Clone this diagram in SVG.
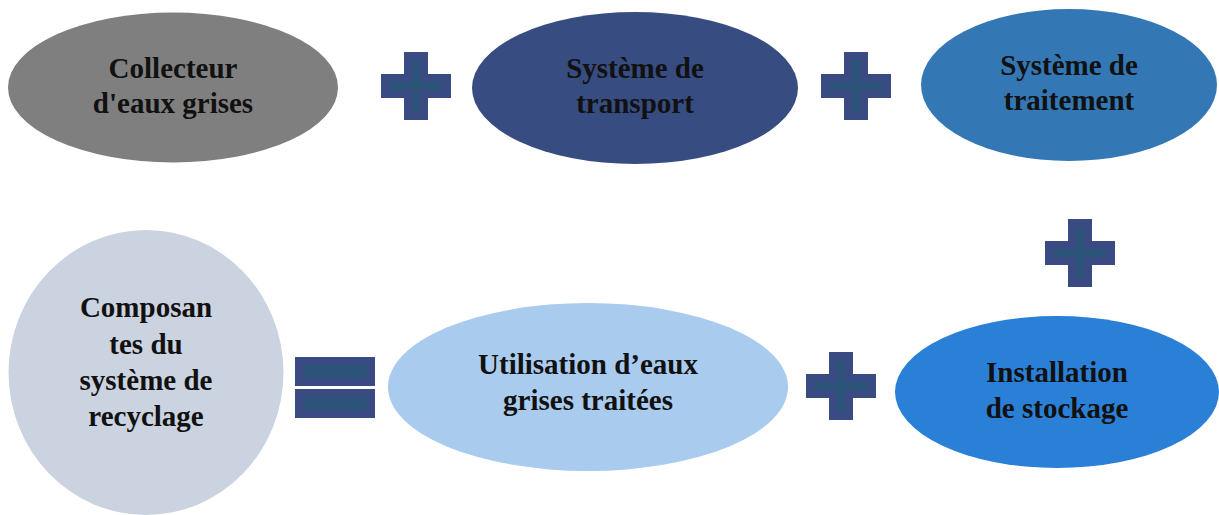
<svg xmlns="http://www.w3.org/2000/svg" xmlns:xlink="http://www.w3.org/1999/xlink" width="1219" height="515" viewBox="0 0 1219 515">
<style>
  .t { font-family: "Liberation Serif", "Times New Roman", serif; font-weight: bold; font-size: 29px; fill: #111111; text-anchor: middle; }
  .op { fill: #3A4A82; }
  .opi { fill: none; stroke: #2C5478; stroke-width: 8; }
</style>
<defs>
  <g id="plus">
    <path class="op" d="M-12,-34 H12 V-12 H35 V12 H12 V34 H-12 V12 H-35 V-12 H-12 Z"/>
    <path class="opi" d="M0,-26 V26 M-26,0 H26"/>
  </g>
</defs>
<rect width="1219" height="515" fill="#ffffff"/>
<g id="operators">
  <use xlink:href="#plus" href="#plus" x="416" y="86"/>
  <use xlink:href="#plus" href="#plus" x="856" y="86"/>
  <use xlink:href="#plus" href="#plus" x="1080" y="253"/>
  <use xlink:href="#plus" href="#plus" x="841" y="386"/>
  <g id="equals">
    <rect class="op" x="295" y="357" width="80" height="29"/>
    <rect x="304" y="365" width="63" height="13" fill="#2C5478"/>
    <rect class="op" x="295" y="389" width="80" height="29"/>
    <rect x="304" y="397" width="63" height="13" fill="#2C5478"/>
  </g>
</g>
<g id="collecteur">
  <ellipse cx="173" cy="87.5" rx="165" ry="75" fill="#7F7F7F"/>
  <text class="t" x="173" y="78">Collecteur</text>
  <text class="t" x="173" y="113">d'eaux grises</text>
</g>
<g id="transport">
  <ellipse cx="635" cy="88" rx="163" ry="76" fill="#374C80"/>
  <text class="t" x="635" y="78">Système de</text>
  <text class="t" x="635" y="113">transport</text>
</g>
<g id="traitement">
  <ellipse cx="1069" cy="85" rx="148" ry="76" fill="#3477B5"/>
  <text class="t" x="1069" y="75">Système de</text>
  <text class="t" x="1069" y="110">traitement</text>
</g>
<g id="composantes">
  <ellipse cx="146" cy="372.5" rx="137.5" ry="142.5" fill="#CBD3E0"/>
  <text class="t" x="146" y="317">Composan</text>
  <text class="t" x="146" y="354">tes du</text>
  <text class="t" x="146" y="390">système de</text>
  <text class="t" x="146" y="426">recyclage</text>
</g>
<g id="utilisation">
  <ellipse cx="588" cy="387" rx="200" ry="84" fill="#A9CBEE"/>
  <text class="t" x="588" y="374">Utilisation d’eaux</text>
  <text class="t" x="588" y="410">grises traitées</text>
</g>
<g id="stockage">
  <ellipse cx="1057" cy="392" rx="162" ry="76" fill="#2A7FD6"/>
  <text class="t" x="1057" y="382">Installation</text>
  <text class="t" x="1057" y="418">de stockage</text>
</g>
<g id="connectors"></g>
</svg>
